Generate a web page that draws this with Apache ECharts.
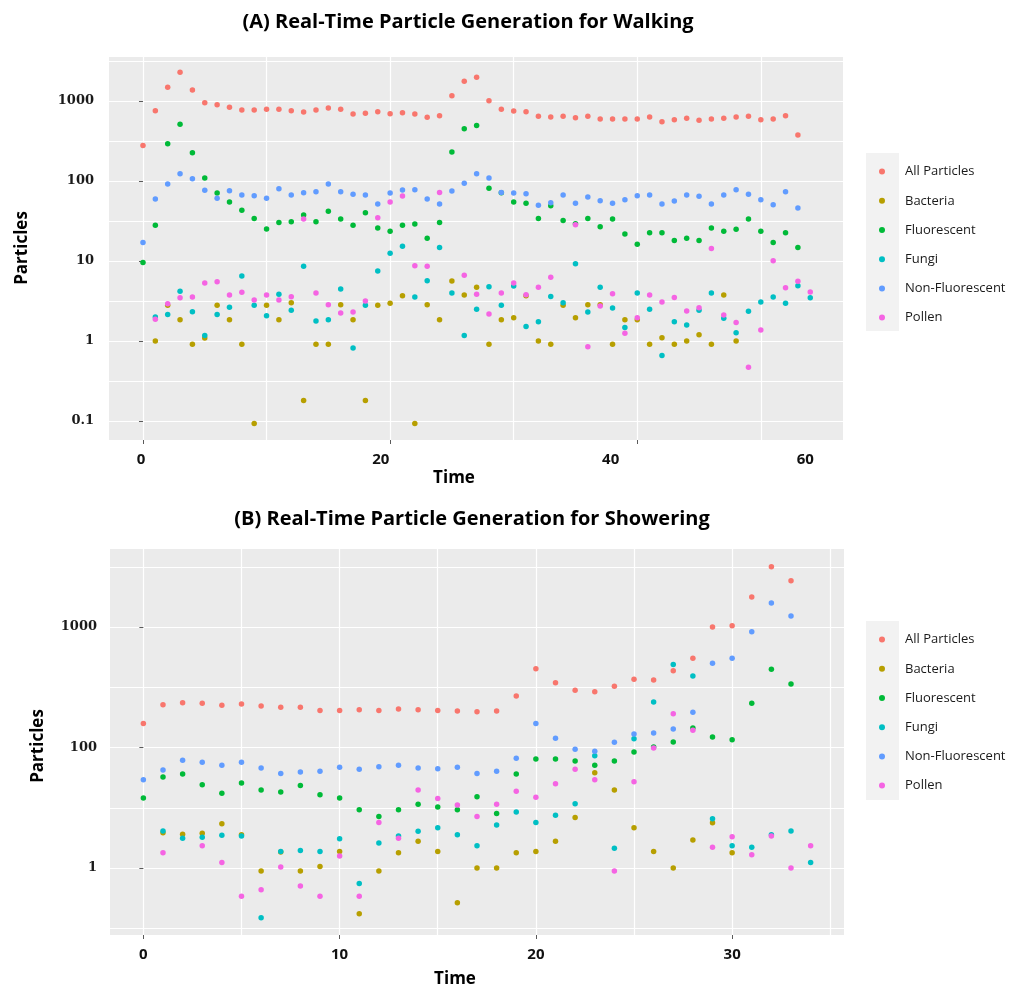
<!DOCTYPE html>
<html>
<head>
<meta charset="utf-8">
<script src="https://cdn.jsdelivr.net/npm/echarts@6/dist/echarts.min.js"></script>
<style>
html,body{margin:0;padding:0;background:#ffffff;}
#chart{width:1030px;height:989px;}
</style>
</head>
<body>
<div id="chart"></div>
<script>
// ---------------- data ----------------
const seriesNames = ['All Particles', 'Bacteria', 'Fluorescent', 'Fungi', 'Non-Fluorescent', 'Pollen'];
const seriesColors = ['#F8766D', '#B79F00', '#00BA38', '#00BFC4', '#619CFF', '#F564E3'];

// Panel A: walking, time 0..54
const timeA = [0,1,2,3,4,5,6,7,8,9,10,11,12,13,14,15,16,17,18,19,20,21,22,23,24,25,26,27,28,29,30,31,32,33,34,35,36,37,38,39,40,41,42,43,44,45,46,47,48,49,50,51,52,53,54];
const walkAll = [277,757,1483,2282,1373,953,900,833,772,772,787,787,757,729,772,818,787,688,701,735,695,715,688,625,656,1166,1762,1977,1009,787,750,736,643,631,643,619,643,596,596,596,596,631,552,584,607,573,596,607,631,643,584,596,656,376,null];
const walkBacteria = [null,1.0,2.79,1.85,0.91,1.09,2.79,1.85,0.91,0.093,2.79,1.85,3.01,0.18,0.91,0.91,2.84,1.85,0.18,2.79,2.96,3.69,0.093,2.84,1.85,5.62,3.76,4.69,0.91,1.85,1.96,3.69,1.0,0.91,2.79,1.96,2.84,2.84,0.91,1.85,1.85,0.91,1.1,0.91,1.0,1.2,0.91,3.76,1.0,null,null,null,null,null,null];
const walkFluorescent = [9.6,27.9,293,511,226,109,70.8,54.6,43,34.1,25.1,30.4,31,37.6,31,41.8,33.5,27.9,40.2,25.9,23.5,27.9,29,19.2,30.4,230,451,496,81,71.5,54.6,52.6,34.1,49.2,32.2,29.3,34.1,26.9,33.5,21.8,16.2,22.6,22.6,18.1,19.2,18.1,25.9,23.5,24.9,33.5,23.5,17.1,22.6,14.8,null];
const walkFungi = [null,2.0,2.15,4.2,2.33,1.17,2.15,2.64,6.49,2.79,2.07,3.83,2.42,8.58,1.78,1.85,4.47,0.82,2.79,7.5,12.5,15.3,3.55,5.68,14.8,3.98,1.17,2.49,4.78,2.79,4.87,1.52,1.74,3.61,3.01,9.26,2.3,4.69,2.58,1.48,3.98,2.49,0.66,1.74,1.58,2.42,3.98,1.92,1.27,2.35,3.07,3.55,2.96,4.92,3.48];
const walkNonFluorescent = [17.1,59.6,91.7,123.5,107,76.4,60.7,75.7,66.8,65.6,60.7,80.2,66.8,71.5,73.6,91.7,73.6,68.1,66.8,51.6,70.8,77.2,77.9,59.6,51.6,75,93.5,123.5,109,72.1,70.8,69.5,49.7,53.6,66.8,52.6,63.1,56.8,52.6,58.4,65.6,66.8,51.6,56.2,66.8,64.3,51.6,66.8,77.9,68.1,58.4,50.6,73.6,46,null];
const walkPollen = [null,1.87,2.93,3.48,3.55,5.3,5.5,3.76,4.06,3.25,3.76,3.25,3.58,33.5,3.98,2.84,2.24,2.3,3.16,34.8,54.6,64.9,8.75,8.58,72.1,null,6.63,3.83,2.18,3.98,5.3,3.8,4.69,6.26,null,28.5,0.85,2.74,3.9,1.25,1.96,3.76,3.07,3.5,2.37,2.61,14.3,2.11,1.71,0.47,1.37,10.1,4.64,5.57,4.1];

// Panel B: showering, time 0..34
const timeB = [0,1,2,3,4,5,6,7,8,9,10,11,12,13,14,15,16,17,18,19,20,21,22,23,24,25,26,27,28,29,30,31,32,33,34];
const showerAll = [158.5,226.7,235.5,232.6,223.9,229.6,221,215.4,215.4,203.3,203.3,206.1,203.3,208.7,206.1,203.3,200.7,198.3,200.7,267.6,451,345,298,290.5,321.8,368,363,434,549.6,1000,1026,1774,3165,2424,null];
const showerBacteria = [null,19.6,19.1,19.4,23.3,18.9,9.44,13.6,9.44,10.3,13.7,4.18,9.44,13.4,16.7,13.7,5.16,10,10,13.4,13.7,16.7,26.3,61.8,44.4,21.6,13.7,10,17.1,23.7,13.4,null,null,null,null];
const showerFluorescent = [38.1,56.8,60.2,49.2,41.7,50.8,44.4,42.7,48.5,40.6,38.1,30.5,26.7,30.5,33.8,32.1,30.5,39.1,28.4,60.2,80.3,80.3,77.3,71.1,77.3,91.8,100.9,111,145,122,116,232.6,445.6,336.6,null];
const showerFungi = [null,20.3,17.7,18,18.7,18.4,3.87,13.7,14.0,13.7,17.5,7.45,16.1,18.4,20.2,21.6,18.9,15.3,22.7,29.2,23.9,27.4,34.2,85.5,14.6,118.4,238.6,489.5,392,25.6,15.3,14.9,18.9,20.3,11.1];
const showerNonFluorescent = [54.1,65.1,78.3,75.3,71.1,75.3,67.6,61,62.6,63.4,68.5,65.9,69.3,71.1,67.6,66.7,68.5,61,63.4,81.3,158.5,119.1,96.6,93,110.4,129.4,131.9,142.4,195.8,501,549.6,914,1581,1234,null];
const showerPollen = [null,13.4,null,15.3,11.1,5.82,6.61,10.2,7.09,5.82,12.6,5.82,23.9,17.7,44.4,37.8,33.3,26.7,33.8,43.3,38.6,50.1,65.9,54.1,9.44,52.1,99,191,138.8,14.9,18.2,12.9,18.4,10,15.3];

// tick labels as printed in the figure
const xTickLabelsA = ['0', '20', '40', '60'];
const xTickLabelsB = ['0', '10', '20', '30'];
const yTickLabelsA = ['0.1', '1', '10', '100', '1000'];   // decades 10^-1 .. 10^3
const yTickLabelsB = ['1', '100', '1000'];                // the three labelled major lines

// ---------------- chart ----------------
const walkSets = [walkAll, walkBacteria, walkFluorescent, walkFungi, walkNonFluorescent, walkPollen];
const showerSets = [showerAll, showerBacteria, showerFluorescent, showerFungi, showerNonFluorescent, showerPollen];

// where the printed labels / tick marks sit along each axis
const xLabelAtA = [-0.15, 19.25, 37.85, 53.6];
const xLabelAtB = [0, 10, 20, 30];
const xTickAtA = [0, 20, 40];
const xTickAtB = [0, 10, 20, 30];
const yTickAtA = [0.1, 1, 10, 100, 1000];
const yTickAtB = [10, 100, 1000];

const rangeA = { xmin: -2.75, xmax: 56.65, ymin: 0.0579, ymax: 3550 };
const rangeB = { xmin: -1.7, xmax: 35.7, ymin: 2.78, ymax: 4440 };

function pairs(times, vals) {
  const out = [];
  times.forEach((t, i) => { if (vals[i] != null) out.push([t, vals[i]]); });
  return out;
}
function decadeFormatter(labels, firstExp) {
  return function (v) {
    const l = Math.log10(v);
    const k = Math.round(l);
    if (Math.abs(l - k) > 1e-6) return '';
    const s = labels[k - firstExp];
    return s == null ? '' : s;
  };
}
function lookupFormatter(at, labels) {
  return function (v) {
    for (let i = 0; i < at.length; i++) {
      if (Math.abs(at[i] - v) < 1e-6) return labels[i];
    }
    return '';
  };
}

const SANS = '"Open Sans", "Noto Sans", sans-serif';
const SERIF = '"DejaVu Serif", serif';
const gridLine = { show: true, showMinLine: false, showMaxLine: false, lineStyle: { color: '#FFFFFF', width: 1.2 } };
const tickStyle = { show: true, length: 4, lineStyle: { color: '#5a5a5a', width: 1 } };
const xLabelStyle = { fontFamily: SANS, fontWeight: 'bold', fontSize: 15, color: '#111111' };
const yLabelStyle = { fontFamily: SERIF, fontWeight: 'bold', fontSize: 13, color: '#1a1a1a' };

const series = [];
seriesNames.forEach((name, i) => {
  series.push({
    type: 'scatter', name: name, xAxisIndex: 0, yAxisIndex: 0,
    data: pairs(timeA, walkSets[i]), symbolSize: 5.5,
    itemStyle: { color: seriesColors[i], opacity: 1 }
  });
  series.push({
    type: 'scatter', name: name, xAxisIndex: 1, yAxisIndex: 1,
    data: pairs(timeB, showerSets[i]), symbolSize: 5.5,
    itemStyle: { color: seriesColors[i], opacity: 1 }
  });
});

// main axes: grid lines + labels
function mainX(grid, r, split, at, labels) {
  return {
    type: 'value', gridIndex: grid, position: 'bottom', min: r.xmin, max: r.xmax, splitNumber: split,
    axisLine: { show: false }, axisTick: { show: false },
    axisLabel: Object.assign({}, xLabelStyle, { margin: 12, customValues: at, formatter: lookupFormatter(at, labels) }),
    splitLine: gridLine
  };
}
function mainY(grid, r, labels, firstExp, margin) {
  return {
    type: 'log', logBase: Math.sqrt(10), gridIndex: grid, position: 'left', min: r.ymin, max: r.ymax, splitNumber: 10,
    axisLine: { show: false }, axisTick: { show: false },
    axisLabel: Object.assign({}, yLabelStyle, { margin: margin, formatter: decadeFormatter(labels, firstExp) }),
    splitLine: gridLine
  };
}
// companion axes: tick marks only at the labelled breaks
function tickX(grid, r, at) {
  return {
    type: 'value', gridIndex: grid, position: 'bottom', min: r.xmin, max: r.xmax,
    axisLine: { show: false }, axisLabel: { show: false }, splitLine: { show: false },
    axisTick: Object.assign({}, tickStyle, { customValues: at })
  };
}
function tickY(grid, r, at) {
  return {
    type: 'log', logBase: 10, gridIndex: grid, position: 'left', min: r.ymin, max: r.ymax,
    axisLine: { show: false }, axisLabel: { show: false }, splitLine: { show: false },
    axisTick: Object.assign({}, tickStyle, { customValues: at })
  };
}

const legendBase = {
  orient: 'vertical', icon: 'circle', itemWidth: 22, itemHeight: 6, itemGap: 0,
  data: seriesNames, selectedMode: false,
  textStyle: { fontFamily: SANS, fontSize: 13, color: '#1a1a1a', lineHeight: 29.2, padding: [0, 0, 0, 7] }
};

const option = {
  animation: false,
  backgroundColor: '#FFFFFF',
  color: seriesColors,
  grid: [
    { left: 109, top: 57, width: 734, height: 383, show: true, backgroundColor: '#EBEBEB', borderWidth: 0 },
    { left: 110, top: 549, width: 734, height: 386, show: true, backgroundColor: '#EBEBEB', borderWidth: 0 }
  ],
  xAxis: [
    mainX(0, rangeA, 6, xLabelAtA, xTickLabelsA),
    mainX(1, rangeB, 7, xLabelAtB, xTickLabelsB),
    tickX(0, rangeA, xTickAtA),
    tickX(1, rangeB, xTickAtB)
  ],
  yAxis: [
    mainY(0, rangeA, yTickLabelsA, -1, 15),
    mainY(1, rangeB, yTickLabelsB, 1, 13),
    tickY(0, rangeA, yTickAtA),
    tickY(1, rangeB, yTickAtB)
  ],
  legend: [
    Object.assign({}, legendBase, { left: 874, top: 152 }),
    Object.assign({}, legendBase, { left: 874, top: 620 })
  ],
  graphic: [
    { type: 'rect', z: 0, shape: { x: 866, y: 153, width: 33, height: 178 }, style: { fill: '#F2F2F2' } },
    { type: 'rect', z: 0, shape: { x: 866, y: 621, width: 33, height: 179 }, style: { fill: '#F2F2F2' } },
    { type: 'text', x: 468, y: 22, style: { text: '(A) Real-Time Particle Generation for Walking', font: 'bold 20px ' + SANS, fill: '#000', align: 'center', verticalAlign: 'middle' } },
    { type: 'text', x: 472, y: 519, style: { text: '(B) Real-Time Particle Generation for Showering', font: 'bold 20px ' + SANS, fill: '#000', align: 'center', verticalAlign: 'middle' } },
    { type: 'text', x: 454, y: 478, style: { text: 'Time', font: 'bold 17px ' + SANS, fill: '#000', align: 'center', verticalAlign: 'middle' } },
    { type: 'text', x: 455, y: 979, style: { text: 'Time', font: 'bold 17px ' + SANS, fill: '#000', align: 'center', verticalAlign: 'middle' } },
    { type: 'text', x: 22, y: 248, rotation: Math.PI / 2, style: { text: 'Particles', font: 'bold 17px ' + SANS, fill: '#000', align: 'center', verticalAlign: 'middle' } },
    { type: 'text', x: 38, y: 746, rotation: Math.PI / 2, style: { text: 'Particles', font: 'bold 17px ' + SANS, fill: '#000', align: 'center', verticalAlign: 'middle' } }
  ],
  series: series
};

const chart = echarts.init(document.getElementById('chart'), null, { renderer: 'canvas' });
chart.setOption(option);
</script>
</body>
</html>
